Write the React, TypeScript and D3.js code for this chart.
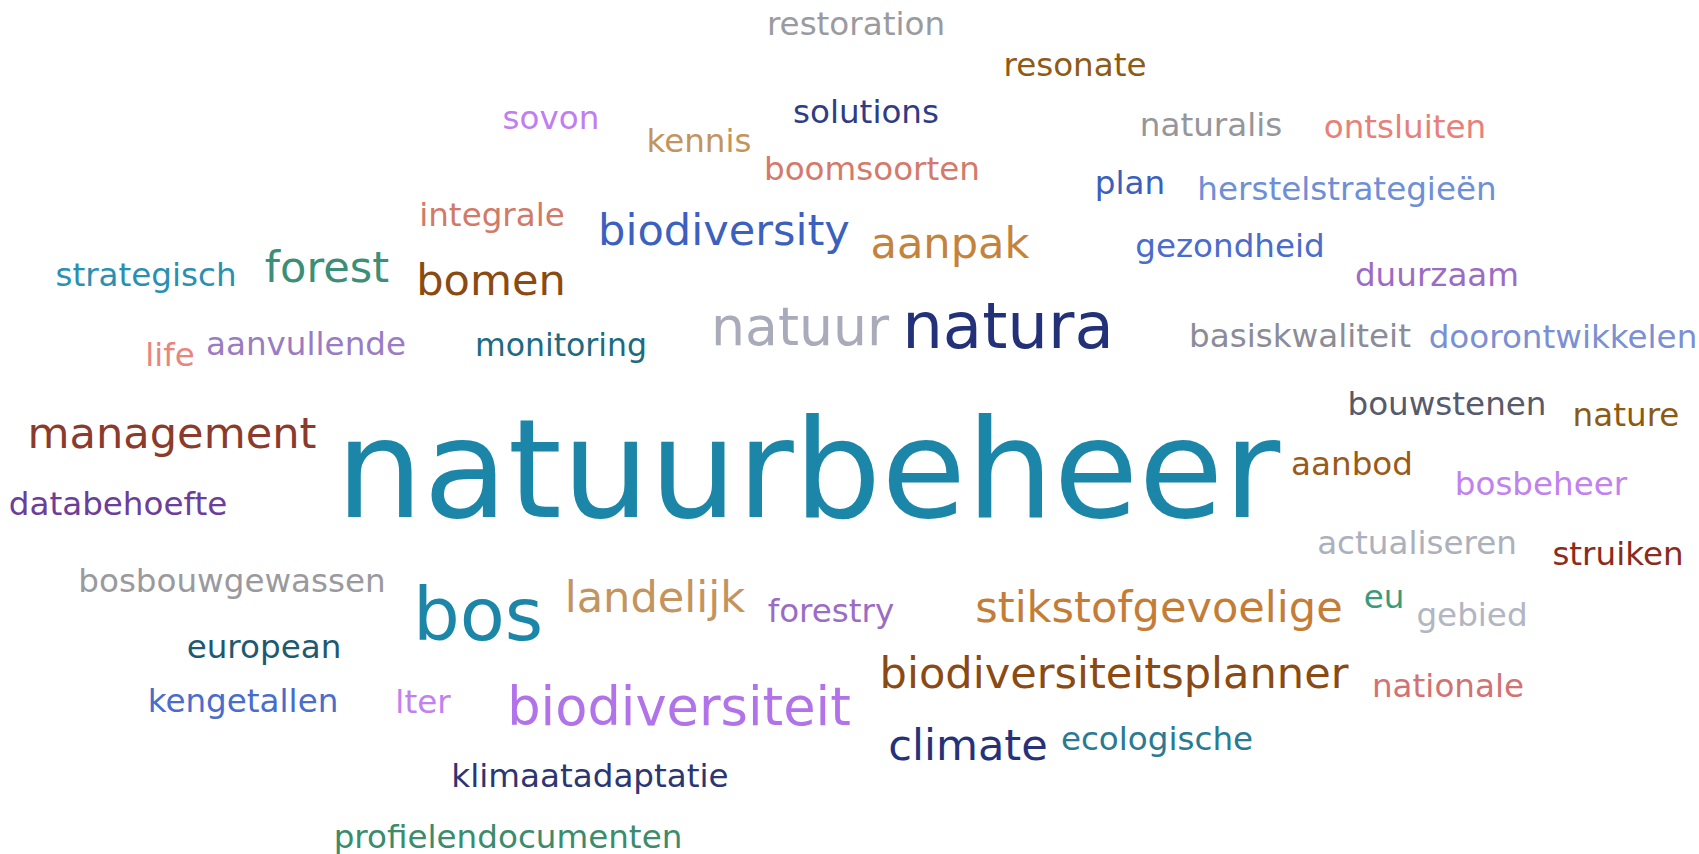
import React from "react";
import * as d3 from "d3";

// ---- data: words, their weights (frequency) and colours ----
const words = [
  "restoration", "resonate", "sovon", "kennis", "solutions", "boomsoorten",
  "naturalis", "ontsluiten", "plan", "herstelstrategieën", "integrale",
  "biodiversity", "aanpak", "gezondheid", "duurzaam", "strategisch", "forest",
  "bomen", "natuur", "natura", "basiskwaliteit", "doorontwikkelen", "life",
  "aanvullende", "monitoring", "management", "natuurbeheer", "databehoefte",
  "bouwstenen", "nature", "aanbod", "bosbeheer", "actualiseren", "struiken",
  "bosbouwgewassen", "bos", "landelijk", "forestry", "stikstofgevoelige", "eu",
  "gebied", "european", "kengetallen", "lter", "biodiversiteit",
  "biodiversiteitsplanner", "nationale", "climate", "ecologische",
  "klimaatadaptatie", "profielendocumenten",
];

const weights = [
  2, 2, 2, 2, 2, 2,
  2, 2, 2, 2, 2,
  4, 4, 2, 2, 2, 4,
  4, 6, 8, 2, 2, 2,
  2, 1.8, 4, 22, 2,
  2, 2, 2, 2, 2, 2,
  2, 9.8, 4, 2, 4, 2,
  2, 2, 2, 2, 5.8,
  4, 2, 4, 2,
  2, 2,
];

const colors = [
  "#9a9ba0", "#8f5a14", "#c07ef2", "#c4945e", "#2e3d85", "#d47a6a",
  "#95969b", "#e6817a", "#3a5fbe", "#6e8fd6", "#d27a68",
  "#3c60c0", "#c4833c", "#4a6ccb", "#9b6cc4", "#2a90b2", "#3b8f78",
  "#8b4a12", "#a9abba", "#233178", "#8c8c98", "#7b90d2", "#e8867e",
  "#9a7cc4", "#1d6b82", "#8b3b2b", "#1c86a8", "#6c3d9a",
  "#565a6a", "#8c5a12", "#9a5a1a", "#c182f0", "#abb1bc", "#8b2b1c",
  "#9a9a9e", "#1c86a8", "#c4945e", "#9b6cc4", "#c47d36", "#3a9a7c",
  "#b2b5c2", "#1d5a72", "#4a6ccb", "#c182f0", "#b172ea",
  "#8b4a12", "#d27272", "#25327a", "#2a7a92",
  "#2b3672", "#3a8c6c",
];

// ---- layout of the cloud (word centre x, baseline y) in the reference frame ----
const layoutX = [
  856, 1075, 551, 699, 866, 872,
  1211, 1405, 1130, 1347, 492,
  724, 950, 1230, 1437, 146, 327,
  491, 800, 1008, 1300, 1563, 170,
  306, 561, 172, 808, 118,
  1447, 1626, 1352, 1541, 1417, 1618,
  232, 478, 655, 831, 1159, 1384,
  1472, 264, 243, 423, 679,
  1114, 1448, 968, 1157,
  590, 508,
];

const layoutY = [
  35, 76, 129, 152, 123, 180,
  136, 138, 194, 200, 226,
  245, 258, 257, 286, 286, 282,
  295, 345, 348, 347, 348, 366,
  355, 356, 448, 517, 515,
  415, 426, 475, 495, 554, 565,
  592, 640, 612, 622, 622, 608,
  626, 658, 712, 713, 725,
  688, 697, 760, 750,
  787, 848,
];

const WIDTH = 1699;
const HEIGHT = 854;

export default function App() {
  const x = d3.scaleLinear().domain([0, 1699]).range([0, WIDTH]);
  const y = d3.scaleLinear().domain([0, 854]).range([0, HEIGHT]);
  const size = d3.scaleLinear().domain([2, 22]).range([32.6, 138]);

  const items = words.map((w, i) => ({
    text: w,
    weight: weights[i],
    color: colors[i],
    x: x(layoutX[i]),
    y: y(layoutY[i]),
  }));

  return (
    <svg
      width={WIDTH}
      height={HEIGHT}
      style={{ position: "absolute", left: 0, top: 0, background: "#ffffff" }}
    >
      <g fontFamily="'DejaVu Sans', Verdana, sans-serif">
        {items.map((d) => (
          <text
            key={d.text}
            x={d.x}
            y={d.y}
            textAnchor="middle"
            fontSize={size(d.weight)}
            fill={d.color}
          >
            {d.text}
          </text>
        ))}
      </g>
    </svg>
  );
}
